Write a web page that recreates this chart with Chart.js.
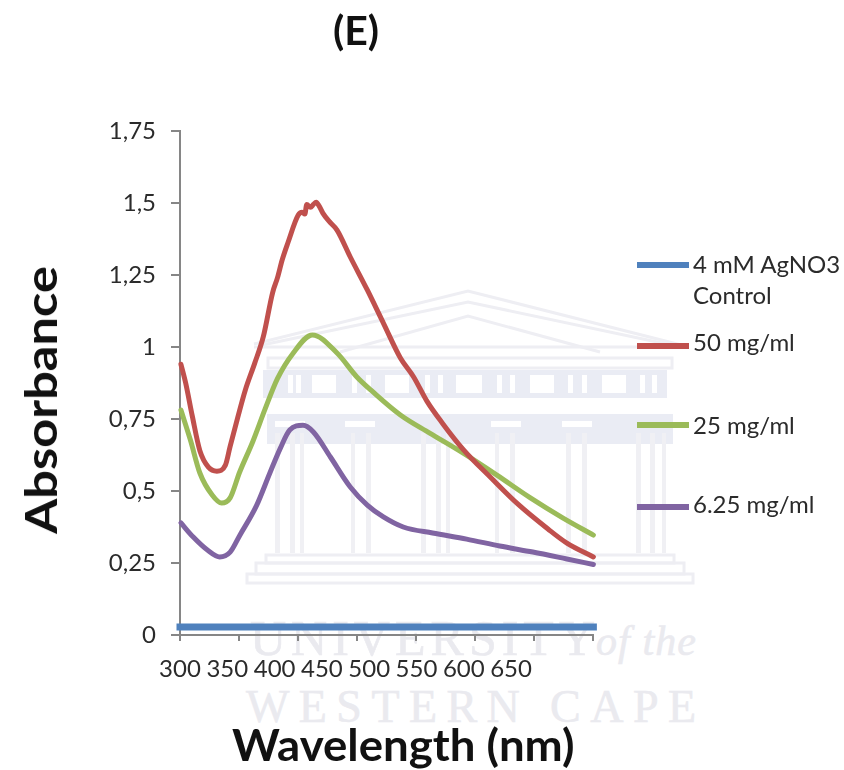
<!DOCTYPE html>
<html>
<head>
<meta charset="utf-8">
<title>Absorbance (E)</title>
<script src="https://cdn.jsdelivr.net/npm/chart.js@4"></script>
<style>
  html, body { margin: 0; padding: 0; background: #fff; }
  #wrap { position: relative; width: 844px; height: 770px; overflow: hidden; font-family: Lato, sans-serif; }
  #wrap canvas, #wrap svg { position: absolute; left: 0; top: 0; }
  .txt { position: absolute; white-space: nowrap; line-height: 1; }
  .bold { font-weight: 700; color: #111; }
  .leg { font-size: 24px; color: #2b2b2b; }
  .swatch { position: absolute; left: 637px; width: 52px; height: 6px; }
</style>
</head>
<body>
<div id="wrap">
  <!-- faint watermark behind the plot -->
  <svg width="844" height="770">
    <g fill="none" stroke="#eeeef3" stroke-width="3">
      <polyline points="254,344 468,291 685,346" />
      <polyline points="262,345 468,302 676,346" />
      <polyline points="340,352 468,316 600,352" />
      <line x1="254" y1="347" x2="685" y2="347" />
      <rect x="268" y="358" width="404" height="10" />
      <rect x="266" y="555" width="408" height="8" />
      <rect x="256" y="563" width="428" height="11" />
      <rect x="247" y="574" width="446" height="9" />
    </g>
    <g fill="#eaecf4">
      <rect x="263" y="370" width="404" height="28" />
      <rect x="267" y="414" width="406" height="30" />
    </g>
    <g fill="#fff">
      <rect x="312" y="375" width="24" height="18" /><rect x="385" y="375" width="24" height="18" />
      <rect x="456" y="375" width="26" height="18" /><rect x="530" y="375" width="24" height="18" />
      <rect x="602" y="375" width="24" height="18" />
      <rect x="288" y="375" width="5" height="18" /><rect x="296" y="375" width="5" height="18" />
      <rect x="352" y="375" width="5" height="18" /><rect x="366" y="375" width="5" height="18" />
      <rect x="425" y="375" width="5" height="18" /><rect x="438" y="375" width="5" height="18" />
      <rect x="497" y="375" width="5" height="18" /><rect x="510" y="375" width="5" height="18" />
      <rect x="568" y="375" width="5" height="18" /><rect x="582" y="375" width="5" height="18" />
      <rect x="640" y="375" width="5" height="18" /><rect x="652" y="375" width="5" height="18" />
      <rect x="279" y="398" width="380" height="16" />
      <rect x="275" y="421" width="30" height="6" /><rect x="345" y="421" width="30" height="6" />
      <rect x="491" y="421" width="30" height="6" /><rect x="562" y="421" width="30" height="6" />
    </g>
    <g fill="#f0f0f4">
      <rect x="275" y="433" width="5" height="120" /><rect x="290" y="433" width="5" height="120" /><rect x="300" y="433" width="4" height="120" />
      <rect x="351" y="433" width="4" height="120" /><rect x="366" y="433" width="5" height="120" />
      <rect x="421" y="433" width="5" height="120" /><rect x="436" y="433" width="5" height="120" /><rect x="446" y="433" width="4" height="120" />
      <rect x="495" y="433" width="4" height="120" /><rect x="510" y="433" width="5" height="120" />
      <rect x="566" y="433" width="5" height="120" /><rect x="582" y="433" width="5" height="120" />
      <rect x="636" y="433" width="5" height="120" /><rect x="650" y="433" width="5" height="120" /><rect x="662" y="433" width="4" height="120" />
    </g>
    <g fill="#eaeaef" stroke="#eaeaef" stroke-width="0.6" font-family="'Liberation Serif', serif">
      <text x="250" y="655" font-size="50" textLength="345" lengthAdjust="spacing">UNIVERSITY</text>
      <text x="596" y="655" font-size="42" font-style="italic" textLength="100" lengthAdjust="spacing">of the</text>
      <text x="246" y="722" font-size="46" textLength="450" lengthAdjust="spacing">WESTERN CAPE</text>
    </g>
  </svg>
  <canvas id="ChartE" width="844" height="770"></canvas>
  <div class="txt bold" style="left:333px;top:9px;font-size:41px;">(E)</div>
  <div class="txt bold" style="left:232px;top:722px;font-size:44px;transform-origin:left center;transform:scaleX(1.036);">Wavelength (nm)</div>
  <div class="txt bold" style="left:40px;top:400px;font-size:44px;transform:translate(-50%,-50%) rotate(-90deg) scaleX(1.15);">Absorbance</div>
  <div id="legend"></div>
</div>
<script>
(function () {
  "use strict";

  // Colors
  const c_blue   = '#4f81bd';
  const c_red    = '#c0504d';
  const c_green  = '#9bbb59';
  const c_purple = '#8064a2';
  const c_axis   = '#868686';
  const c_text   = '#2b2b2b';

  // Tick labels
  const y_ticks = ['0', '0,25', '0,5', '0,75', '1', '1,25', '1,5', '1,75'];
  const x_last_label = 650;

  // Series names, as in the legend
  const names = ['4 mM AgNO3 Control', '50 mg/ml', '25 mg/ml', '6.25 mg/ml'];

  // Control
  const blue_x = [300, 350, 400, 450, 500, 550, 600, 650, 700, 737];
  const blue_y = [0.028, 0.028, 0.028, 0.028, 0.028, 0.028, 0.028, 0.028, 0.028, 0.028];

  // 50 mg/ml
  const red_x = [301, 306, 313, 321, 330, 339, 348, 353, 361, 369, 379, 388, 398, 403, 408, 414, 425, 429, 432, 434, 438, 441, 444, 447, 451, 458, 466, 480, 498, 515, 533, 547, 561, 578, 600, 629, 657, 689, 709, 737];
  const red_y = [0.94, 0.875, 0.76, 0.64, 0.583, 0.569, 0.59, 0.655, 0.755, 0.85, 0.944, 1.035, 1.19, 1.24, 1.302, 1.361, 1.458, 1.468, 1.462, 1.495, 1.485, 1.495, 1.503, 1.49, 1.465, 1.435, 1.406, 1.3125, 1.198, 1.083, 0.962, 0.896, 0.812, 0.733, 0.642, 0.545, 0.455, 0.368, 0.319, 0.271];

  // 25 mg/ml
  const green_x = [301, 311, 321, 334, 344, 353, 363, 377, 390, 403, 419, 440, 466, 487, 504, 533, 564, 599, 635, 670, 705, 737];
  const green_y = [0.781, 0.677, 0.5625, 0.486, 0.458, 0.476, 0.565, 0.672, 0.785, 0.89, 0.976, 1.042, 0.979, 0.896, 0.844, 0.764, 0.701, 0.632, 0.555, 0.477, 0.406, 0.347];

  // 6.25 mg/ml
  const purple_x = [301, 314, 329, 342, 353, 363, 381, 395, 406, 416, 430, 441, 459, 480, 498, 515, 536, 567, 603, 638, 673, 709, 737];
  const purple_y = [0.389, 0.34, 0.295, 0.271, 0.288, 0.345, 0.45, 0.5625, 0.648, 0.712, 0.728, 0.705, 0.618, 0.514, 0.451, 0.41, 0.375, 0.354, 0.333, 0.309, 0.288, 0.264, 0.245];

  function toPoints(xs, ys) {
    return xs.map(function (x, i) { return { x: x, y: ys[i] }; });
  }

  function line(name, xs, ys, color, width, cap) {
    return {
      label: name,
      data: toPoints(xs, ys),
      borderColor: color,
      backgroundColor: color,
      borderWidth: width,
      borderCapStyle: cap,
      cubicInterpolationMode: 'monotone',
      pointRadius: 0,
      clip: false,
      xAxisID: 'x',
      yAxisID: 'y'
    };
  }

  const ctx = document.getElementById('ChartE').getContext('2d');
  new Chart(ctx, {
    type: 'line',
    data: {
      datasets: [
        line(names[0], blue_x, blue_y, c_blue, 7, 'square'),
        line(names[1], red_x, red_y, c_red, 5, 'round'),
        line(names[2], green_x, green_y, c_green, 5, 'round'),
        line(names[3], purple_x, purple_y, c_purple, 5, 'round')
      ]
    },
    options: {
      responsive: false,
      animation: false,
      layout: { padding: { left: 0, top: 131, right: 251, bottom: 87 } },
      plugins: { legend: { display: false }, title: { display: false }, tooltip: { enabled: false } },
      scales: {
        // tick marks do not line up with the labels in the source figure, so they get an axis of their own
        marks: {
          type: 'linear',
          position: 'bottom',
          weight: 0,
          min: 0,
          max: 7,
          border: { color: c_axis, width: 2 },
          grid: { drawOnChartArea: false, color: c_axis, lineWidth: 2, tickLength: 6 },
          ticks: { stepSize: 1, padding: 0, callback: function () { return ''; } },
          afterFit: function (s) { s.height = 8; }
        },
        x: {
          type: 'linear',
          position: 'bottom',
          weight: 1,
          min: 300,
          max: 736.6,
          border: { display: false },
          grid: { display: false, drawTicks: false },
          ticks: {
            stepSize: 50,
            autoSkip: false,
            maxRotation: 0,
            padding: 12,
            color: c_text,
            font: { family: 'Lato', size: 24 },
            callback: function (value) { return value <= x_last_label ? String(value) : null; }
          },
          afterFit: function (s) { s.height = 40; }
        },
        y: {
          type: 'linear',
          min: 0,
          max: 1.75,
          border: { color: c_axis, width: 2 },
          grid: { drawOnChartArea: false, color: c_axis, lineWidth: 2, tickLength: 9 },
          ticks: {
            stepSize: 0.25,
            padding: 15,
            color: c_text,
            font: { family: 'Lato', size: 24 },
            callback: function (value) { return y_ticks[Math.round(value / 0.25)]; }
          },
          afterFit: function (s) { s.width = 180; }
        }
      }
    }
  });

  // Legend rows sit at uneven heights, so it is plain html
  const swatchColors = [c_blue, c_red, c_green, c_purple];
  const swatchTop = [262, 343, 422, 504];
  const labelRows = [[names[0].slice(0, 10), 252], [names[0].slice(11), 283], [names[1], 330], [names[2], 413], [names[3], 492]];
  const legend = document.getElementById('legend');
  swatchColors.forEach(function (color, i) {
    const el = document.createElement('div');
    el.className = 'swatch';
    el.style.top = swatchTop[i] + 'px';
    el.style.background = color;
    legend.appendChild(el);
  });
  labelRows.forEach(function (row) {
    const el = document.createElement('div');
    el.className = 'txt leg';
    el.style.left = '693px';
    el.style.top = row[1] + 'px';
    el.textContent = row[0];
    legend.appendChild(el);
  });
})();
</script>
</body>
</html>
